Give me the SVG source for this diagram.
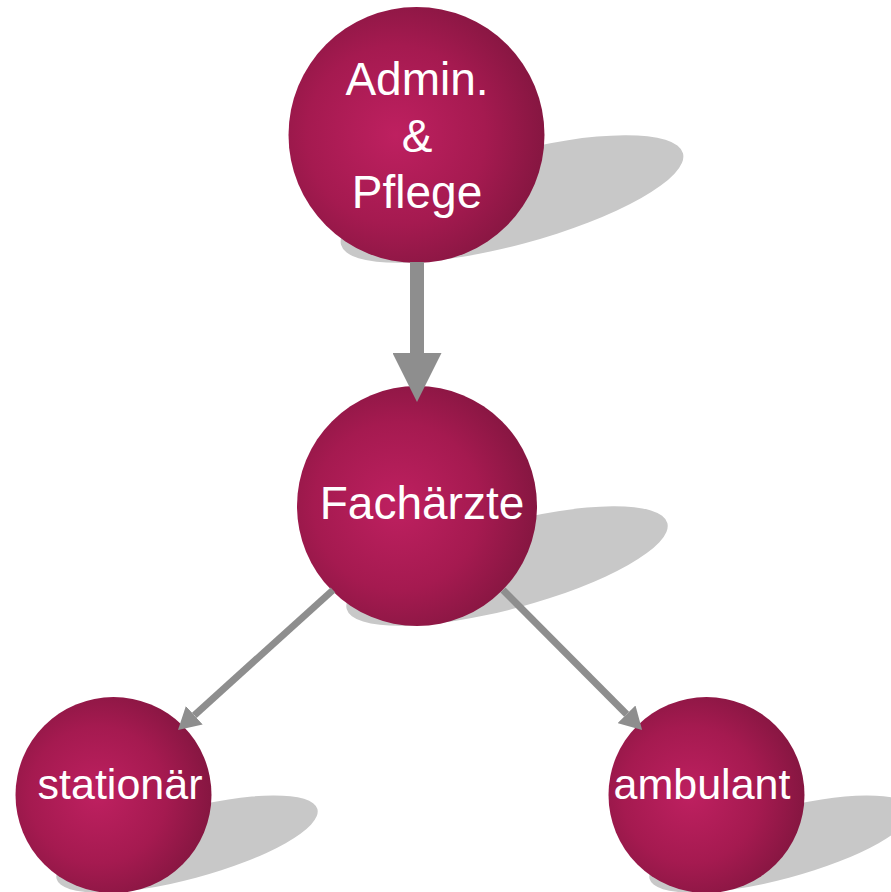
<svg xmlns="http://www.w3.org/2000/svg" width="891" height="892" viewBox="0 0 891 892">
  <defs>
    <radialGradient id="ball" cx="0.42" cy="0.5" r="0.58">
      <stop offset="0" stop-color="#be2060"/>
      <stop offset="0.6" stop-color="#a51a50"/>
      <stop offset="1" stop-color="#861641"/>
    </radialGradient>
    <marker id="headBig" markerUnits="userSpaceOnUse" markerWidth="49" markerHeight="49" refX="0" refY="24.5" orient="auto" viewBox="0 0 49 49">
      <path d="M0,0 L49,24.5 L0,49 z" fill="#8e8e8e"/>
    </marker>
    <marker id="headSmall" markerUnits="userSpaceOnUse" markerWidth="22" markerHeight="25" refX="0" refY="12.5" orient="auto" viewBox="0 0 22 25">
      <path d="M0,0 L22,12.5 L0,25 z" fill="#8e8e8e"/>
    </marker>
  </defs>
  <style>
    .shadow { fill: #c8c8c8; }
    .ball { fill: url(#ball); }
    .label { fill: #ffffff; font-family: "Liberation Sans", Arial, sans-serif; text-anchor: middle; }
    .edge { stroke: #8e8e8e; fill: none; }
  </style>
  <rect width="891" height="892" fill="#ffffff"/>

  <g id="node-admin">
    <ellipse class="shadow" cx="512" cy="199" rx="177" ry="46" transform="rotate(-15 512 199)"/>
    <circle class="ball" cx="416.5" cy="135" r="128"/>
    <text class="label" font-size="46" x="417" y="95">Admin.</text>
    <text class="label" font-size="46" x="417" y="152">&amp;</text>
    <text class="label" font-size="46" x="417" y="208">Pflege</text>
  </g>

  <g id="node-fachaerzte">
    <ellipse class="shadow" cx="507" cy="566" rx="166" ry="43" transform="rotate(-15 507 566)"/>
    <circle class="ball" cx="417" cy="506" r="120"/>
    <text class="label" font-size="46" x="422" y="519">Fachärzte</text>
  </g>

  <g id="node-stationaer">
    <ellipse class="shadow" cx="187" cy="844" rx="135" ry="35" transform="rotate(-15 187 844)"/>
    <circle class="ball" cx="113.5" cy="795" r="98"/>
    <text class="label" font-size="43" x="120" y="799">stationär</text>
  </g>

  <g id="node-ambulant">
    <ellipse class="shadow" cx="780" cy="844" rx="135" ry="35" transform="rotate(-15 780 844)"/>
    <circle class="ball" cx="706.5" cy="795" r="98"/>
    <text class="label" font-size="43" x="702" y="799">ambulant</text>
  </g>

  <g id="connectors">
    <line class="edge" x1="417" y1="262" x2="417" y2="353" stroke-width="14" marker-end="url(#headBig)"/>
    <line class="edge" x1="333" y1="590" x2="194.3" y2="715.3" stroke-width="7" marker-end="url(#headSmall)"/>
    <line class="edge" x1="503" y1="590" x2="626.6" y2="714.3" stroke-width="7" marker-end="url(#headSmall)"/>
  </g>
</svg>
